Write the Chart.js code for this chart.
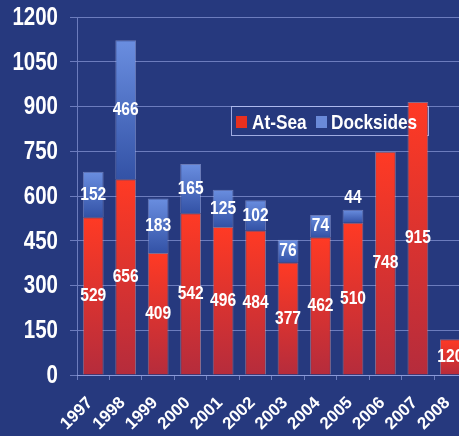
<!DOCTYPE html>
<html>
<head>
<meta charset="utf-8">
<script src="https://cdn.jsdelivr.net/npm/chart.js@4/dist/chart.umd.min.js"></script>
<style>
html, body { margin: 0; padding: 0; overflow: hidden; background: #26397e; }
</style>
</head>
<body>
<canvas id="chart" width="478" height="436"></canvas>
<script>
// Chart data
var years = ['1997', '1998', '1999', '2000', '2001', '2002', '2003', '2004', '2005', '2006', '2007', '2008'];
var atSea = [529, 656, 409, 542, 496, 484, 377, 462, 510, 748, 915, 120];
var docksides = [152, 466, 183, 165, 125, 102, 76, 74, 44, null, null, null];
var yTicks = [0, 150, 300, 450, 600, 750, 900, 1050, 1200];

var sans = "'Liberation Sans', Arial, sans-serif";
var gridColor = 'rgba(165, 180, 240, 0.55)';

// no narrow face installed, so squeeze the bold sans sideways
function narrowText(c, text, x, y, size) {
    c.save();
    c.font = 'bold ' + size + 'px ' + sans;
    c.translate(x, y);
    c.scale(0.82, 1);
    c.fillText(text, 0, 0);
    c.restore();
}

// vertical gradient for one stacked segment, using the y scale
function segmentFill(ctx, from, to, topColor, bottomColor) {
    var chart = ctx.chart;
    if (!chart.chartArea || ctx.type !== 'data') return topColor;
    var i = ctx.dataIndex;
    var y = chart.scales.y;
    var lo = from(i), hi = to(i);
    if (hi == null || isNaN(hi)) return topColor;
    var g = chart.ctx.createLinearGradient(0, y.getPixelForValue(hi), 0, y.getPixelForValue(lo));
    g.addColorStop(0, topColor);
    g.addColorStop(1, bottomColor);
    return g;
}

// y axis numbers
var yLabels = {
    id: 'yLabels',
    afterDraw: function (chart) {
        var c = chart.ctx;
        var y = chart.scales.y;
        c.save();
        c.fillStyle = '#ffffff';
        c.textAlign = 'right';
        c.textBaseline = 'middle';
        yTicks.forEach(function (v) {
            narrowText(c, String(v), y.right - 19, y.getPixelForValue(v) + 1, 25);
        });
        c.restore();
    }
};

// value labels in the middle of each segment
var valueLabels = {
    id: 'valueLabels',
    afterDatasetsDraw: function (chart) {
        var c = chart.ctx;
        c.save();
        c.fillStyle = '#ffffff';
        c.textAlign = 'center';
        chart.data.datasets.forEach(function (ds, d) {
            chart.getDatasetMeta(d).data.forEach(function (el, i) {
                var v = ds.data[i];
                if (v == null) return;
                var h = el.base - el.y;
                if (h < 16) {
                    c.textBaseline = 'bottom';
                    narrowText(c, String(v), el.x, el.y - 2, 19);
                } else {
                    c.textBaseline = 'middle';
                    narrowText(c, String(v), el.x, (el.y + el.base) / 2, 19);
                }
            });
        });
        c.restore();
    }
};

// legend box inside the plot
var boxLegend = {
    id: 'boxLegend',
    beforeDatasetsDraw: function (chart) {
        var c = chart.ctx;
        c.save();
        c.strokeStyle = 'rgba(190, 200, 250, 0.8)';
        c.lineWidth = 1;
        c.strokeRect(231.5, 106.5, 197, 29);
        c.restore();
    },
    afterDatasetsDraw: function (chart) {
        var c = chart.ctx;
        c.save();
        c.fillStyle = '#e8301f';
        c.fillRect(236, 116, 11, 12);
        c.fillStyle = '#6a8ad8';
        c.fillRect(316, 116, 11, 12);
        c.fillStyle = '#ffffff';
        c.textBaseline = 'middle';
        c.textAlign = 'left';
        narrowText(c, 'At-Sea', 252, 123, 21);
        narrowText(c, 'Docksides', 331, 123, 21);
        c.restore();
    }
};

var ctx = document.getElementById('chart').getContext('2d');
var myChart = new Chart(ctx, {
    type: 'bar',
    data: {
        labels: years,
        datasets: [{
            label: 'At-Sea',
            data: atSea,
            backgroundColor: function (c) {
                return segmentFill(c, function () { return 0; }, function (i) { return atSea[i]; }, '#ff3a24', '#b52c3c');
            },
            borderColor: 'rgba(255, 170, 160, 0.45)',
            borderWidth: 1,
            categoryPercentage: 0.8,
            barPercentage: 0.8
        }, {
            label: 'Docksides',
            data: docksides,
            backgroundColor: function (c) {
                return segmentFill(c, function (i) { return atSea[i]; }, function (i) { return docksides[i] == null ? null : atSea[i] + docksides[i]; }, '#6a8ee0', '#3352a6');
            },
            borderColor: 'rgba(190, 205, 255, 0.45)',
            borderWidth: 1,
            categoryPercentage: 0.8,
            barPercentage: 0.8
        }]
    },
    options: {
        responsive: false,
        animation: false,
        devicePixelRatio: 1,
        layout: { padding: { top: 17, right: 5, left: 0, bottom: 0 } },
        plugins: {
            legend: { display: false },
            tooltip: { enabled: false }
        },
        scales: {
            x: {
                stacked: true,
                grid: { drawOnChartArea: false, drawTicks: true, tickLength: 5, color: gridColor, offset: true },
                border: { color: gridColor },
                ticks: {
                    color: '#ffffff',
                    font: { family: sans, weight: 'bold', size: 17 },
                    minRotation: 45,
                    maxRotation: 45,
                    autoSkip: false,
                    padding: 13,
                    labelOffset: -3
                },
                afterFit: function (scale) { scale.height = 61; }
            },
            y: {
                stacked: true,
                min: 0,
                max: 1200,
                afterBuildTicks: function (scale) {
                    scale.ticks = yTicks.map(function (v) { return { value: v }; });
                },
                grid: { color: gridColor, tickLength: 7 },
                border: { color: gridColor },
                ticks: { display: false },
                afterFit: function (scale) { scale.width = 77; }
            }
        }
    },
    plugins: [boxLegend, valueLabels, yLabels]
});
</script>
</body>
</html>
